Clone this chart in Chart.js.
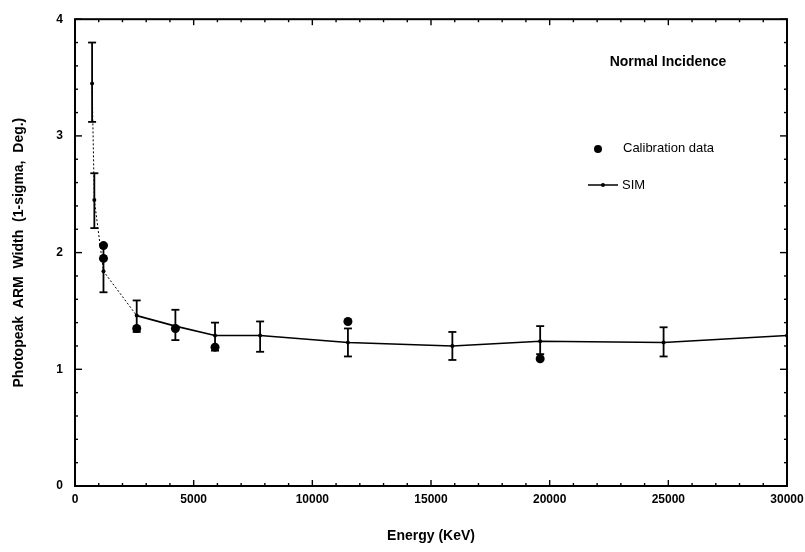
<!DOCTYPE html>
<html>
<head>
<meta charset="utf-8">
<script src="https://cdn.jsdelivr.net/npm/chart.js@4.4.1/dist/chart.umd.min.js"></script>
<style>
  html, body { margin: 0; padding: 0; background: #fff; }
  #wrap { width: 805px; height: 552px; }
</style>
</head>
<body>
<div id="wrap"><canvas id="chart"></canvas></div>
<script>
// SIM curve (KeV, degrees) with its 1-sigma error bars
const energy   = [720, 815, 1200, 2600, 4230, 5900, 7800, 11500, 15900, 19600, 24800, 30000];
const simWidth = [3.45, 2.45, 1.84, 1.46, 1.37, 1.29, 1.29, 1.23, 1.20, 1.24, 1.23, 1.29];
const errHigh  = [3.80, 2.68, 2.07, 1.59, 1.51, 1.40, 1.41, 1.35, 1.32, 1.37, 1.36, null];
const errLow   = [3.12, 2.21, 1.66, 1.32, 1.25, 1.16, 1.15, 1.11, 1.08, 1.13, 1.11, null];

// calibration measurements
const calEnergy = [1200, 1200, 2600, 4230, 5900, 11500, 19600];
const calWidth  = [2.06, 1.95, 1.35, 1.35, 1.19, 1.41, 1.09];

const xTicks = [0, 5000, 10000, 15000, 20000, 25000, 30000];
const yTicks = [0, 1, 2, 3, 4];

const FONT = '"Liberation Sans", Arial, sans-serif';

const framePlugin = {
  id: 'frame',
  afterDatasetsDraw(chart) {
    const { ctx, chartArea: a, scales: { x, y } } = chart;
    const seg = (x1, y1, x2, y2) => { ctx.beginPath(); ctx.moveTo(x1, y1); ctx.lineTo(x2, y2); ctx.stroke(); };
    ctx.save();
    ctx.strokeStyle = '#000';
    ctx.fillStyle = '#000';

    // error bars
    ctx.lineWidth = 1.8;
    energy.forEach((e, i) => {
      if (errHigh[i] == null) return;
      const px = x.getPixelForValue(e);
      const top = y.getPixelForValue(errHigh[i]);
      const bot = y.getPixelForValue(errLow[i]);
      seg(px, top, px, bot);
      seg(px - 4, top, px + 4, top);
      seg(px - 4, bot, px + 4, bot);
    });

    // box
    ctx.lineWidth = 2;
    ctx.strokeRect(a.left, a.top, a.right - a.left, a.bottom - a.top);

    // inward ticks, all four sides
    ctx.lineWidth = 1.4;
    for (let v = 0; v <= 30000; v += 1000) {
      const px = x.getPixelForValue(v);
      const len = v % 5000 === 0 ? 6 : 3;
      seg(px, a.bottom, px, a.bottom - len);
      seg(px, a.top, px, a.top + len);
    }
    for (let k = 0; k <= 20; k++) {
      const py = y.getPixelForValue(k / 5);
      const len = k % 5 === 0 ? 7 : 3;
      seg(a.left, py, a.left + len, py);
      seg(a.right, py, a.right - len, py);
    }

    // heading + legend
    ctx.textBaseline = 'middle';
    ctx.textAlign = 'center';
    ctx.font = 'bold 14px ' + FONT;
    ctx.fillText('Normal Incidence', 668, 62);

    ctx.textAlign = 'left';
    ctx.font = '13px ' + FONT;
    ctx.beginPath(); ctx.arc(598, 149, 4, 0, Math.PI * 2); ctx.fill();
    ctx.fillText('Calibration data', 623, 148);

    ctx.lineWidth = 1.5;
    seg(588, 185, 618, 185);
    ctx.beginPath(); ctx.arc(603, 185, 2, 0, Math.PI * 2); ctx.fill();
    ctx.fillText('SIM', 622, 185);
    ctx.restore();
  }
};

new Chart(document.getElementById('chart'), {
  type: 'scatter',
  data: {
    datasets: [{
      label: 'SIM',
      data: energy.map((e, i) => ({ x: e, y: simWidth[i] })),
      showLine: true,
      borderColor: '#000',
      borderWidth: 1.6,
      pointRadius: 2,
      pointBackgroundColor: '#000',
      pointBorderWidth: 0,
      segment: {
        borderDash: c => c.p0DataIndex < 3 ? [2, 2] : undefined,
        borderWidth: c => c.p0DataIndex < 3 ? 1 : 1.6
      }
    }, {
      label: 'Calibration data',
      data: calEnergy.map((e, i) => ({ x: e, y: calWidth[i] })),
      pointRadius: 4.5,
      pointBackgroundColor: '#000',
      pointBorderWidth: 0
    }]
  },
  options: {
    responsive: true,
    maintainAspectRatio: false,
    animation: false,
    layout: { padding: { top: 17, right: 18, left: 0, bottom: 0 } },
    plugins: { legend: { display: false }, tooltip: { enabled: false } },
    scales: {
      x: {
        type: 'linear', min: 0, max: 30000,
        afterFit: s => { s.height = 66; s.paddingLeft = 0; s.paddingRight = 0; },
        afterBuildTicks: s => { s.ticks = xTicks.map(v => ({ value: v })); },
        grid: { display: false, drawTicks: false },
        border: { display: false },
        ticks: { color: '#000', font: { family: FONT, size: 12, weight: 'bold' }, padding: 6,
                 maxRotation: 0, autoSkip: false, callback: v => String(v) },
        title: { display: true, text: 'Energy (KeV)', color: '#000',
                 font: { family: FONT, size: 14, weight: 'bold' }, padding: { top: 0, bottom: 7 } }
      },
      y: {
        min: 0, max: 4,
        afterFit: s => { s.width = 75; },
        afterBuildTicks: s => { s.ticks = yTicks.map(v => ({ value: v })); },
        grid: { display: false, drawTicks: false },
        border: { display: false },
        ticks: { color: '#000', font: { family: FONT, size: 12, weight: 'bold' }, padding: 12 },
        title: { display: true, text: 'Photopeak  ARM  Width  (1-sigma,  Deg.)', color: '#000',
                 font: { family: FONT, size: 14, weight: 'bold' }, padding: { top: 11, bottom: 0 } }
      }
    }
  },
  plugins: [framePlugin]
});
</script>
</body>
</html>
